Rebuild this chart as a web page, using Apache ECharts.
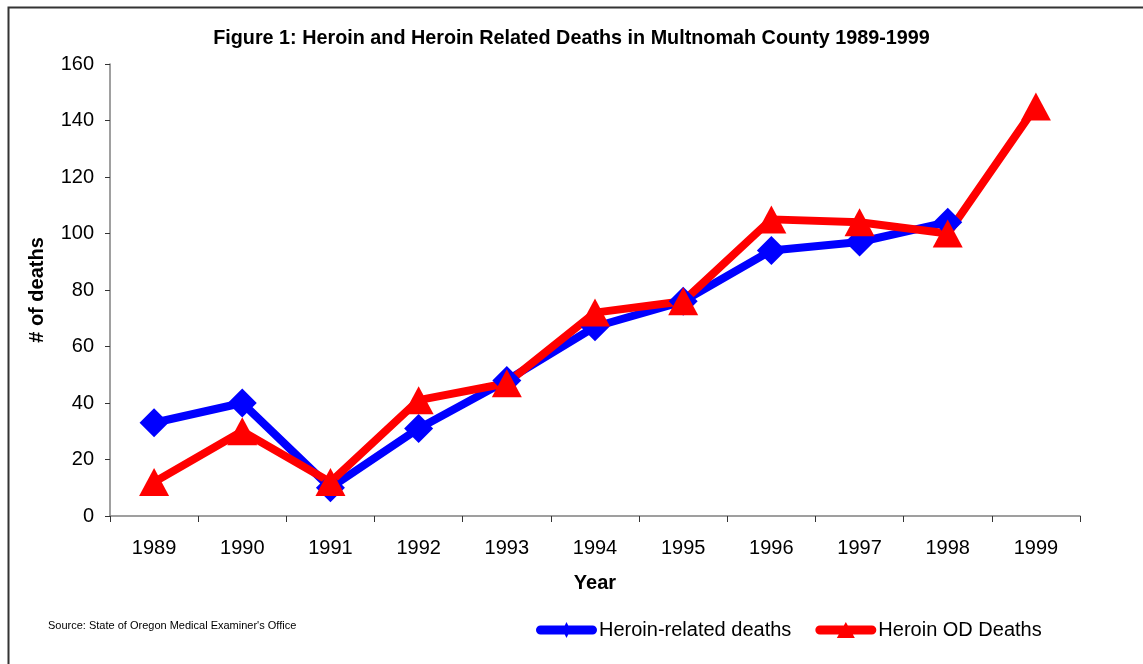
<!DOCTYPE html>
<html>
<head>
<meta charset="utf-8">
<script src="https://cdn.jsdelivr.net/npm/echarts@6/dist/echarts.min.js"></script>
<style>html,body{margin:0;padding:0;background:#fff}#c{width:1143px;height:664px}</style>
</head>
<body>
<div id="c"></div>
<script>
const years = ['1989','1990','1991','1992','1993','1994','1995','1996','1997','1998','1999'];
const heroinRelated = [33, 40, 10, 31, 48, 67, 76, 94, 97, 104, null];
const heroinOD = [12, 30, 12, 41, 47, 72, 76, 105, 104, 100, 145];
const yTicks = [0, 20, 40, 60, 80, 100, 120, 140, 160];

const font = '"Liberation Sans", Arial, sans-serif';
const barPath = 'M4.5 3.5 L56.5 3.5 A4.5 4.5 0 0 1 56.5 12.5 L4.5 12.5 A4.5 4.5 0 0 1 4.5 3.5 Z ';
const blueIcon = 'path://' + barPath + 'M30.5 0 L34.5 8 L30.5 16 L26.5 8 Z';
const redIcon = 'path://' + barPath + 'M30.5 0 L39.5 16 L21.5 16 Z';

const chart = echarts.init(document.getElementById('c'));
chart.setOption({
  animation: false,
  backgroundColor: '#fff',
  textStyle: { fontFamily: font },
  title: {
    text: 'Figure 1: Heroin and Heroin Related Deaths in Multnomah County 1989-1999',
    left: 'center', top: 29, padding: 0,
    textStyle: { fontSize: 19.8, fontWeight: 'bold', color: '#000', fontFamily: font }
  },
  graphic: [
    { type: 'rect', shape: { x: 8.5, y: 7.5, width: 1200, height: 700 },
      style: { fill: 'none', stroke: '#333', lineWidth: 2 }, silent: true },
    { type: 'text', left: 48, top: 620,
      style: { text: "Source: State of Oregon Medical Examiner's Office", fontSize: 11, fill: '#000', fontFamily: font } }
  ],
  legend: {
    left: 536, top: 620, padding: 0,
    itemWidth: 61, itemHeight: 16, itemGap: 24,
    textStyle: { fontSize: 20, color: '#000', fontFamily: font, padding: [2,0,0,-3] },
    data: [
      { name: 'Heroin-related deaths', icon: blueIcon, itemStyle: { color: '#0000ff' } },
      { name: 'Heroin OD Deaths', icon: redIcon, itemStyle: { color: '#ff0000' } }
    ]
  },
  grid: { left: 110, right: 63, top: 64, bottom: 148 },
  xAxis: {
    type: 'category', data: years, boundaryGap: true,
    name: 'Year', nameLocation: 'middle', nameGap: 57,
    nameTextStyle: { fontSize: 20, fontWeight: 'bold', color: '#000', fontFamily: font },
    axisLine: { lineStyle: { color: '#808080', width: 1.5 } },
    axisTick: { show: true, length: 6, alignWithLabel: false, lineStyle: { color: '#333' } },
    axisLabel: { fontSize: 20, color: '#000', margin: 22, fontFamily: font }
  },
  yAxis: {
    type: 'value', min: 0, max: 160, interval: 20,
    name: '# of deaths', nameLocation: 'middle', nameGap: 63, nameRotate: 90,
    nameTextStyle: { fontSize: 20, fontWeight: 'bold', color: '#000', fontFamily: font },
    axisLine: { show: true, lineStyle: { color: '#808080', width: 1.5 } },
    axisTick: { show: true, length: 5, lineStyle: { color: '#333' } },
    splitLine: { show: false },
    axisLabel: { fontSize: 20, color: '#000', margin: 16, fontFamily: font,
      formatter: v => yTicks.includes(v) ? String(v) : '' }
  },
  series: [
    { name: 'Heroin-related deaths', type: 'line', data: heroinRelated,
      color: '#0000ff', symbol: 'diamond', symbolSize: 29,
      lineStyle: { width: 8, color: '#0000ff' }, itemStyle: { color: '#0000ff' } },
    { name: 'Heroin OD Deaths', type: 'line', data: heroinOD,
      color: '#ff0000', symbol: 'triangle', symbolSize: [30, 28],
      lineStyle: { width: 8, color: '#ff0000' }, itemStyle: { color: '#ff0000' } }
  ]
});
</script>
</body>
</html>
